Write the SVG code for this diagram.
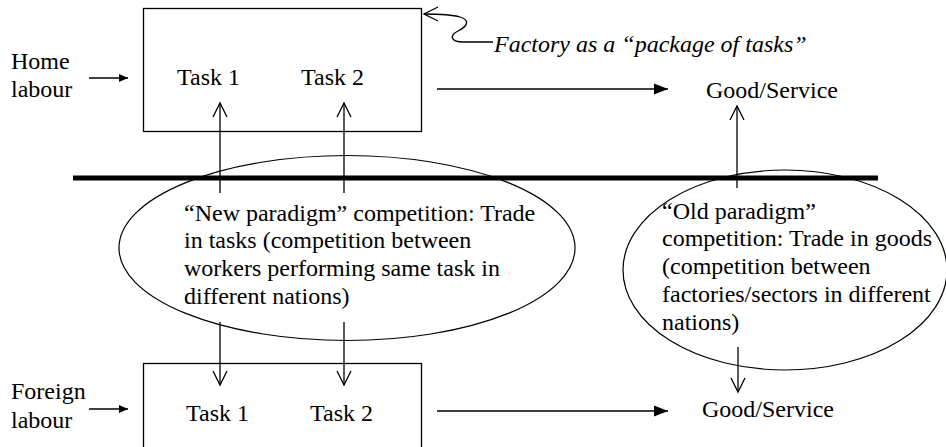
<svg xmlns="http://www.w3.org/2000/svg" width="946" height="447" viewBox="0 0 946 447">
<defs>
<style>
text{font-family:'Liberation Serif',Tinos,'Times New Roman',Times,serif;font-size:24px;fill:#000}
.it{font-style:italic}
.ln{stroke:#000;stroke-width:1.3;fill:none}
.box{stroke:#000;stroke-width:1.3;fill:#fff}
.ell{stroke:#000;stroke-width:1.2;fill:none}
</style>
<marker id="vee" markerUnits="userSpaceOnUse" viewBox="-16 -9 18 18" markerWidth="18" markerHeight="18" refX="0" refY="0" orient="auto" overflow="visible">
<path d="M-14,-7 L0,0 L-14,7" fill="none" stroke="#000" stroke-width="1.3"/>
</marker>
<marker id="tri" markerUnits="userSpaceOnUse" viewBox="-16 -8 18 16" markerWidth="18" markerHeight="16" refX="0" refY="0" orient="auto" overflow="visible">
<path d="M-14,-5.5 L0,0 L-14,5.5 z" fill="#000"/>
</marker>
<marker id="tris" markerUnits="userSpaceOnUse" viewBox="-12 -6 14 12" markerWidth="14" markerHeight="12" refX="0" refY="0" orient="auto" overflow="visible">
<path d="M-9,-4 L0,0 L-9,4 z" fill="#000"/>
</marker>
</defs>

<g id="home-box">
<rect class="box" x="143.5" y="8.5" width="278" height="123"/>
<text x="177" y="85">Task 1</text>
<text x="301" y="85">Task 2</text>
</g>
<g id="home-labour"><text x="11" y="69">Home</text><text x="11" y="97">labour</text></g>
<g id="factory-label"><text class="it" x="494" y="52">Factory as a “package of tasks”</text></g>
<g id="good-top"><text x="706" y="98">Good/Service</text></g>

<g id="foreign-box">
<rect class="box" x="143.5" y="363.5" width="278" height="100"/>
<text x="186" y="421">Task 1</text>
<text x="310" y="421">Task 2</text>
</g>
<g id="foreign-labour"><text x="11" y="399">Foreign</text><text x="11" y="428">labour</text></g>
<g id="good-bottom"><text x="702" y="417">Good/Service</text></g>

<g id="divider"><line x1="73" y1="178" x2="878" y2="178" stroke="#000" stroke-width="5"/></g>

<g id="new-paradigm">
<ellipse class="ell" cx="347" cy="248" rx="228" ry="92.5"/>
<text x="184" y="221">“New paradigm” competition: Trade</text>
<text x="184" y="248">in tasks (competition between</text>
<text x="184" y="276">workers performing same task in</text>
<text x="184" y="304">different nations)</text>
</g>

<g id="old-paradigm">
<ellipse class="ell" cx="785" cy="270" rx="162" ry="100"/>
<text x="662" y="219">“Old paradigm”</text>
<text x="662" y="246">competition: Trade in goods</text>
<text x="662" y="274">(competition between</text>
<text x="662" y="302">factories/sectors in different</text>
<text x="662" y="330">nations)</text>
</g>

<g id="connectors">
<line class="ln" x1="89" y1="78" x2="128" y2="78" marker-end="url(#tris)"/>
<line class="ln" x1="89" y1="409" x2="128" y2="409" marker-end="url(#tris)"/>
<line class="ln" x1="437" y1="89" x2="668" y2="89" marker-end="url(#tri)"/>
<line class="ln" x1="437" y1="411" x2="668" y2="411" marker-end="url(#tri)"/>
<line class="ln" x1="220" y1="193" x2="220" y2="103" marker-end="url(#vee)"/>
<line class="ln" x1="344" y1="193" x2="344" y2="103" marker-end="url(#vee)"/>
<line class="ln" x1="737" y1="188" x2="737" y2="106" marker-end="url(#vee)"/>
<line class="ln" x1="220" y1="322" x2="220" y2="385" marker-end="url(#vee)"/>
<line class="ln" x1="344" y1="322" x2="344" y2="385" marker-end="url(#vee)"/>
<line class="ln" x1="738" y1="347" x2="738" y2="392" marker-end="url(#vee)"/>
<path class="ln" d="M493,42 L463,42 C452,42 448,36 458,31 C468,26 470,20 460,17 C450,14 436,14 424,14" marker-end="url(#vee)"/>
</g>
</svg>
